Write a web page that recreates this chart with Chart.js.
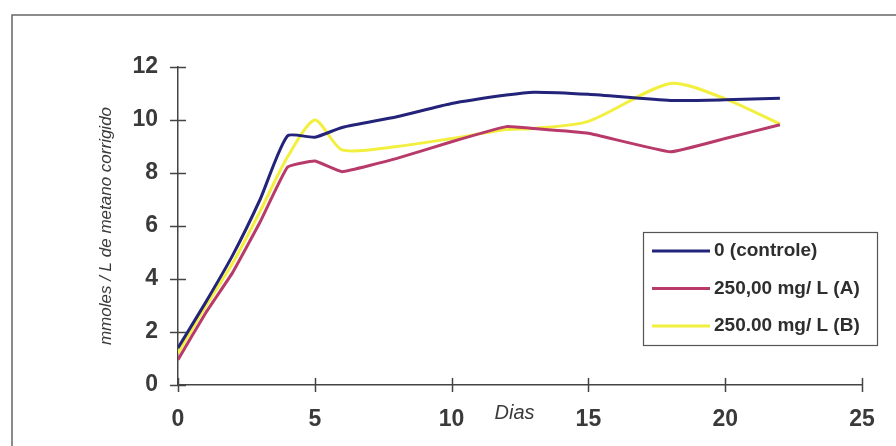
<!DOCTYPE html>
<html>
<head>
<meta charset="utf-8">
<script src="https://cdn.jsdelivr.net/npm/chart.js@4.4.1/dist/chart.umd.min.js"></script>
<style>
  html, body { margin: 0; padding: 0; background: #fff; }
  #wrap { width: 896px; height: 446px; position: relative; }
</style>
</head>
<body>
<div id="wrap"><canvas id="c" width="896" height="446"></canvas></div>
<script>
// Sampling days
const days = [0, 1, 2, 3, 4, 5, 6, 8, 10, 12, 13, 15, 18, 20, 22];

// Accumulated methane (mmol/L) per treatment
const controle = [1.4, 3.1, 4.9, 7.0, 9.4, 9.35, 9.72, 10.12, 10.62, 10.94, 11.05, 10.97, 10.74, 10.76, 10.82];
const doseA    = [0.95, 2.7, 4.25, 6.15, 8.22, 8.45, 8.05, 8.55, 9.18, 9.75, 9.68, 9.5, 8.8, 9.3, 9.82];
const doseB    = [1.2, 2.95, 4.6, 6.55, 8.6, 10.0, 8.87, 9.0, 9.3, 9.64, 9.68, 9.95, 11.38, 10.8, 9.85];

const seriesLabels = ['0 (controle)', '250,00 mg/ L (A)', '250.00 mg/ L (B)'];
const xTicks = [0, 5, 10, 15, 20, 25];
const yTicks = [0, 2, 4, 6, 8, 10, 12];

const FONT = "Arial, 'Liberation Sans', sans-serif";
const INK = '#3a3a3a';

const toPoints = vals => days.map((d, i) => ({ x: d, y: vals[i] }));

// Outer frame and white page
const framePlugin = {
  id: 'frame',
  beforeDraw(chart) {
    const ctx = chart.ctx;
    ctx.save();
    ctx.fillStyle = '#fff';
    ctx.fillRect(0, 0, chart.width, chart.height);
    ctx.strokeStyle = '#666';
    ctx.lineWidth = 1.5;
    ctx.beginPath();
    ctx.moveTo(12, chart.height);
    ctx.lineTo(12, 15);
    ctx.lineTo(chart.width, 15);
    ctx.stroke();
    ctx.restore();
  }
};

// Tick marks that cross the axis lines, plus the x caption
const crossTicks = {
  id: 'crossTicks',
  afterDatasetsDraw(chart) {
    const { ctx, scales: { x, y } } = chart;
    ctx.save();
    ctx.strokeStyle = '#444';
    ctx.lineWidth = 1.5;
    ctx.beginPath();
    y.ticks.forEach(t => {
      const py = Math.round(y.getPixelForValue(t.value)) + 0.5;
      ctx.moveTo(x.left - 8, py);
      ctx.lineTo(x.left + 8, py);
    });
    x.ticks.forEach(t => {
      const px = Math.round(x.getPixelForValue(t.value)) + 0.5;
      ctx.moveTo(px, y.bottom - 7);
      ctx.lineTo(px, y.bottom + 7);
    });
    ctx.stroke();

    ctx.fillStyle = INK;
    ctx.font = `italic 20px ${FONT}`;
    ctx.textAlign = 'center';
    ctx.textBaseline = 'middle';
    ctx.fillText('Dias', x.getPixelForValue(12.3), 413);
    ctx.restore();
  }
};

// Boxed legend inside the plot area
const boxLegend = {
  id: 'boxLegend',
  afterDraw(chart) {
    const ctx = chart.ctx;
    const left = 643, top = 232, w = 234, h = 113;
    ctx.save();
    ctx.fillStyle = '#fff';
    ctx.fillRect(left, top, w, h);
    ctx.strokeStyle = '#555';
    ctx.lineWidth = 1.2;
    ctx.strokeRect(left + 0.5, top + 0.5, w, h);
    ctx.font = `bold 19px ${FONT}`;
    ctx.textBaseline = 'middle';
    ctx.textAlign = 'left';
    chart.data.datasets.forEach((ds, i) => {
      const cy = top + 19 + i * 37.5;
      ctx.strokeStyle = ds.borderColor;
      ctx.lineWidth = 3;
      ctx.beginPath();
      ctx.moveTo(left + 9, cy);
      ctx.lineTo(left + 67, cy);
      ctx.stroke();
      ctx.fillStyle = '#2e2e2e';
      ctx.fillText(ds.label, left + 71, cy);
    });
    ctx.restore();
  }
};

new Chart(document.getElementById('c'), {
  type: 'line',
  data: {
    datasets: [
      { label: seriesLabels[0], data: toPoints(controle), borderColor: '#23237a', tension: 0.2 },
      { label: seriesLabels[1], data: toPoints(doseA),    borderColor: '#b83a6a', tension: 0.1 },
      { label: seriesLabels[2], data: toPoints(doseB),    borderColor: '#f3ef3e', tension: 0.25 }
    ].map(d => Object.assign(d, { borderWidth: 3, pointRadius: 0, fill: false }))
  },
  options: {
    responsive: false,
    animation: false,
    layout: { padding: { left: 96, top: 67, right: 34, bottom: 0 } },
    plugins: { legend: { display: false }, tooltip: { enabled: false } },
    scales: {
      x: {
        type: 'linear',
        min: 0, max: 25,
        afterBuildTicks: s => { s.ticks = xTicks.map(v => ({ value: v })); },
        afterFit: s => { s.height = 61; },
        grid: { display: false, drawTicks: false },
        border: { display: true, color: '#444', width: 1.5 },
        ticks: { color: INK, padding: 21, font: { family: FONT, size: 23, weight: 'bold' } }
      },
      y: {
        min: 0, max: 12,
        afterBuildTicks: s => { s.ticks = yTicks.map(v => ({ value: v })); },
        afterFit: s => { s.width = 82; },
        grid: { display: false, drawTicks: false },
        border: { display: true, color: '#444', width: 1.5 },
        ticks: { color: INK, padding: 20, font: { family: FONT, size: 23, weight: 'bold' } },
        title: {
          display: true,
          text: 'mmoles / L de metano corrigido',
          color: INK,
          padding: 0,
          font: { family: FONT, size: 17, style: 'italic' }
        }
      }
    }
  },
  plugins: [framePlugin, crossTicks, boxLegend]
});
</script>
</body>
</html>
